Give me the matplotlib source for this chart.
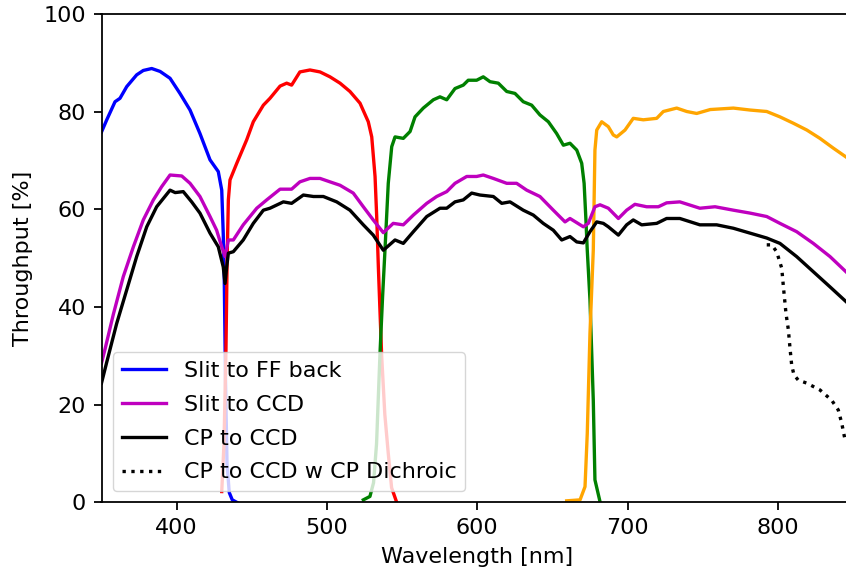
import matplotlib
matplotlib.use("Agg")
import matplotlib.pyplot as plt

# ---- data ----
blue_wl = [350, 353.5, 359, 362.3, 366.8, 373.4, 377.8, 383.4, 389, 395.6, 402.2, 408.9,
           415.5, 422.2, 427.7, 430, 431, 431.7, 432.5, 433.5, 435, 437, 440]
blue_val = [75.8, 78.3, 82, 82.7, 85.1, 87.5, 88.4, 88.8, 88.2, 86.8, 83.7, 80.3,
            75.5, 70.1, 67.7, 63.9, 55, 45, 25, 8, 2, 0.5, 0]

red_wl = [430, 431.5, 432.8, 433.6, 434.4, 435.5, 440, 446.6, 451, 457.7, 462.1, 468.8,
          473.2, 476.5, 482, 488.7, 495.4, 502, 508.7, 515.3, 522, 527.5, 529.8, 532,
          533.1, 534.2, 535.3, 536.4, 538.5, 540.8, 543, 546.4]
red_val = [2.2, 12, 31, 50, 61.9, 66, 69.4, 74.2, 77.9, 81.3, 82.7, 85.2,
           85.8, 85.4, 88.1, 88.5, 88.1, 87.1, 85.8, 84.1, 81.7, 77.9, 74.8, 66.7,
           58.5, 48.2, 39, 30, 18, 10, 3, 0]

green_wl = [524.2, 528.6, 531, 533, 535.3, 537, 538.6, 540.8, 543.1, 545.3, 550.8, 555.3,
            558.6, 564.1, 570.8, 575.2, 579.7, 585.2, 590.7, 594, 599.6, 604, 608.5, 614,
            619.6, 625.1, 630.6, 636.2, 641.7, 647.3, 652.8, 657.3, 661.7, 666.2, 669.5,
            671.1, 672.2, 673.2, 675, 677.2, 678.3, 681.7]
green_val = [0.5, 1.2, 4, 12, 30.5, 42, 51.6, 65.3, 72.8, 74.8, 74.5, 75.9,
             78.9, 80.7, 82.4, 83.0, 82.4, 84.7, 85.4, 86.4, 86.4, 87.1, 86.1, 85.8,
             84.1, 83.7, 82, 81.3, 79.3, 77.9, 75.5, 73.1, 73.5, 72.1, 69.4,
             65.3, 58.5, 51.6, 41.4, 20.9, 4.6, 0.1]

orange_wl = [659.5, 668.4, 671.7, 673.2, 675, 677.2, 678.3, 679.5, 682.8, 687.2, 690.5,
             692.8, 698.3, 703.8, 710.5, 719.4, 723.8, 732.7, 739.4, 746, 755, 770.4,
             781.5, 792.6, 801.4, 810.3, 819.3, 828, 836.9, 845.3]
orange_val = [0.3, 0.5, 3.2, 14.1, 34.6, 51.6, 72.1, 76.2, 77.9, 76.9, 75.2,
              74.8, 76.2, 78.6, 78.3, 78.6, 80, 80.7, 80, 79.6, 80.4, 80.7,
              80.3, 80, 78.9, 77.6, 76.2, 74.5, 72.5, 70.7]

slit_ccd_wl = [350, 352.3, 357.9, 364.5, 371.2, 377.8, 384.5, 390, 395.6, 403.4, 408.9,
               415.5, 422.2, 426.6, 430, 432.2, 434.4, 437.7, 444.3, 453.3, 459.9, 468.8,
               476.5, 482, 488.7, 495.4, 502, 508.7, 517.5, 524.2, 530.8, 537.5, 544.1,
               550.8, 557.5, 566.4, 573, 579.7, 585.2, 593, 599.6, 604, 610.7, 619.6,
               626.2, 632.9, 641.7, 650.6, 658.4, 661.7, 670.6, 673.9, 678.3, 681.7,
               687.2, 693.9, 699.4, 704.9, 712.7, 720.5, 726, 734.8, 748.1, 758.2,
               770.4, 781.5, 792.6, 801.4, 812.5, 823.6, 834.7, 845.3]
slit_ccd_val = [28.5, 31.3, 38.5, 46.2, 52.3, 57.8, 61.9, 64.6, 67, 66.8, 65.3,
                62.6, 58.5, 55.7, 52.3, 50.3, 53.7, 53.7, 56.8, 60.2, 61.9, 64.1,
                64.1, 65.6, 66.3, 66.3, 65.6, 64.9, 63.3, 60.5, 57.8, 55.2, 57.1,
                56.8, 58.8, 61.2, 62.6, 63.6, 65.3, 66.7, 66.7, 67, 66.3, 65.3,
                65.3, 63.9, 62.6, 59.8, 57.4, 58.1, 56.4, 57.1, 60.5, 60.9,
                60.2, 58.1, 59.8, 61, 60.5, 60.5, 61.3, 61.5, 60.2, 60.5,
                59.8, 59.2, 58.5, 57.1, 55.4, 53, 50.3, 47.2]

cp_ccd_wl = [350, 353.5, 360.1, 366.8, 373.4, 380.1, 386.7, 392.2, 395.6, 399, 404.4, 410,
             415.5, 422.2, 427.7, 431, 432.2, 433.3, 434.4, 437.7, 444.3, 451, 457.7,
             462.1, 471, 476.5, 484.3, 491, 497.6, 506.5, 515.3, 524.2, 530.8, 537.5,
             545.3, 550.8, 557.5, 566.4, 575.2, 579.7, 585.2, 590.7, 596.3, 601.8,
             610.7, 616.3, 621.8, 630.6, 637.3, 643.9, 650.6, 656.2, 661.7, 666.2,
             670.6, 675, 679.5, 683.9, 687.2, 693.9, 699.4, 703.8, 709.4, 719.4, 726,
             734.8, 748.1, 759.3, 770.4, 781.5, 792.6, 801.4, 812.5, 823.6, 834.7, 845.3]
cp_ccd_val = [24.4, 28.7, 36.6, 43.5, 50.3, 56.4, 60.5, 62.6, 63.9, 63.4, 63.6, 61.5,
              59.2, 55.1, 52.3, 48.2, 44.8, 48.2, 51, 51.3, 53.7, 57.1, 59.8,
              60.2, 61.5, 61.2, 62.9, 62.6, 62.6, 61.5, 59.8, 56.8, 54.7, 51.6,
              53.7, 53, 55.4, 58.5, 60.2, 60.2, 61.5, 61.9, 63.3, 62.9,
              62.6, 61.2, 61.5, 59.8, 58.8, 57.1, 55.7, 53.7, 54.4, 53.3,
              53.1, 55.4, 57.4, 57.1, 56.4, 54.7, 56.8, 57.8, 56.8, 57.1, 58.1,
              58.1, 56.8, 56.8, 56.1, 55.1, 54.1, 53, 50.3, 47.2, 44.1, 41.1]

dichroic_wl = [792.6, 795.9, 799.2, 802.6, 803.7, 805.4, 807, 808.1, 809.2, 810.7, 813.6,
               819.2, 828, 835.8, 840.2, 842.5, 844.7]
dichroic_val = [52.7, 52.7, 51.3, 47.9, 44.1, 38.7, 35.3, 31.5, 28.1, 26.1, 25,
                24.4, 23, 20.9, 18.9, 16.2, 12.8]

x_ticks = [400, 500, 600, 700, 800]
y_ticks = [0, 20, 40, 60, 80, 100]

# ---- figure ----
plt.rcParams['font.family'] = ['DejaVu Sans']
fs = 16
lw = 2.4
fig = plt.figure(figsize=(8.46, 5.77), dpi=100)
W, H = 846, 577
left_px, right_px, bottom_px, top_px = 101.5, 853.0, 502.3, 13.8
ax = fig.add_axes([left_px / W, (H - bottom_px) / H,
                   (right_px - left_px) / W, (bottom_px - top_px) / H])

ax.plot(blue_wl, blue_val, color='b', lw=lw, label='Slit to FF back')
ax.plot(red_wl, red_val, color='r', lw=lw)
ax.plot(green_wl, green_val, color='g', lw=lw)
ax.plot(orange_wl, orange_val, color='orange', lw=lw)
ax.plot(slit_ccd_wl, slit_ccd_val, color='m', lw=lw, label='Slit to CCD')
ax.plot(cp_ccd_wl, cp_ccd_val, color='k', lw=lw, label='CP to CCD')
ax.plot(dichroic_wl, dichroic_val, color='k', lw=lw, ls=':', label='CP to CCD w CP Dichroic')

ax.set_xlim(350, 850)
ax.set_ylim(0, 100)
ax.set_xticks(x_ticks)
ax.set_yticks(y_ticks)
ax.tick_params(labelsize=fs, length=5.6, width=1.28, pad=5.6)
for s in ax.spines.values():
    s.set_linewidth(1.28)
ax.set_xlabel('Wavelength [nm]', fontsize=fs, labelpad=6.5)
ax.set_ylabel('Throughput [%]', fontsize=fs, labelpad=7.5)

handles, labels = ax.get_legend_handles_labels()
ax.legend(handles, labels, loc='lower left', fontsize=fs, labelspacing=0.62)

fig.savefig('out.png', dpi=100)
